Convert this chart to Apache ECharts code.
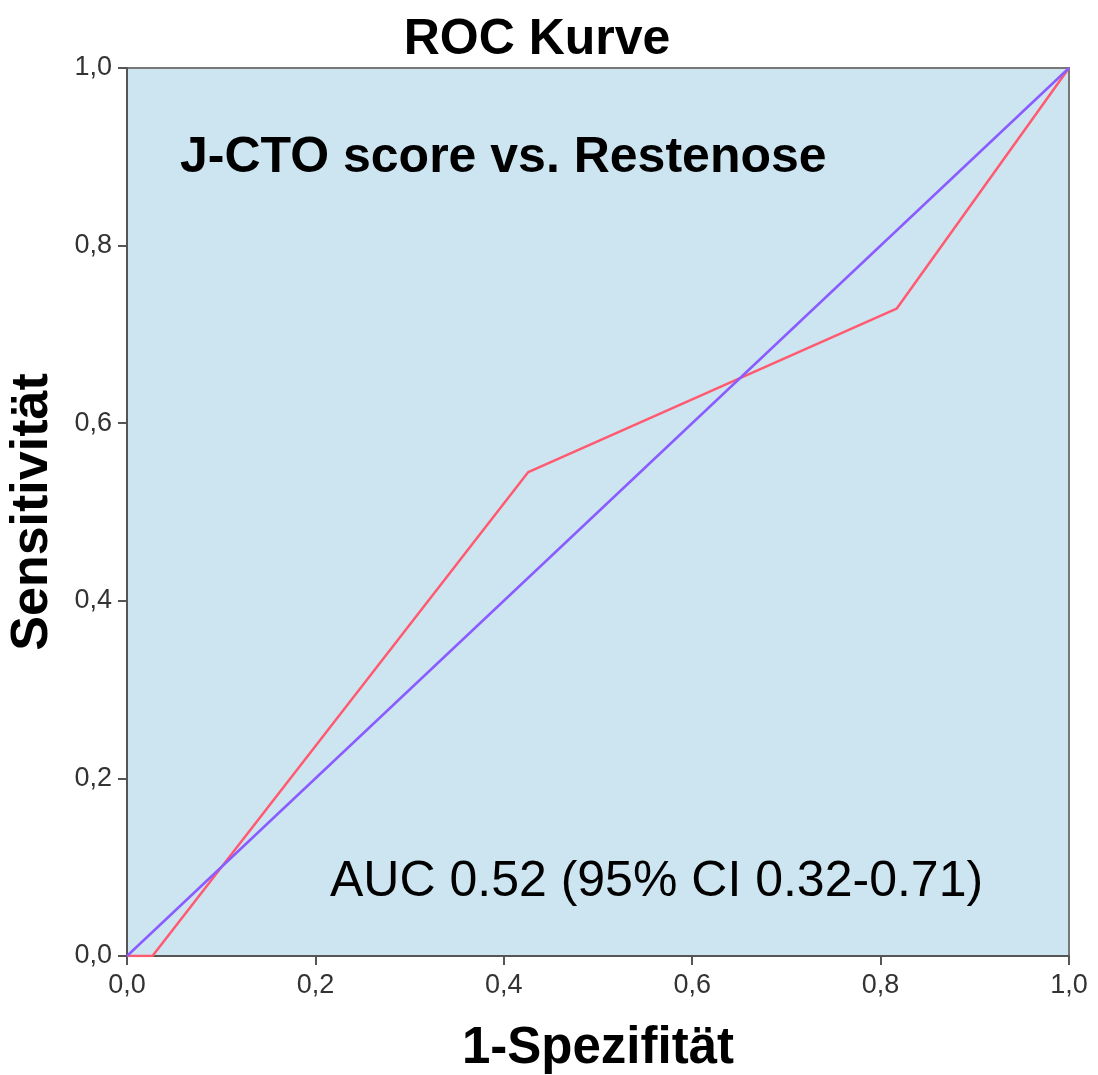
<!DOCTYPE html>
<html>
<head>
<meta charset="utf-8">
<script src="https://cdn.jsdelivr.net/npm/echarts@6/dist/echarts.min.js"></script>
<style>html,body{margin:0;padding:0;background:#fff}#c{width:1098px;height:1075px}</style>
</head>
<body>
<div id="c"></div>
<script>
var rocX = [0, 0.027, 0.426, 0.817, 1];
var rocY = [0, 0, 0.545, 0.729, 1];
var refX = [0, 1];
var refY = [0, 1];
var ticks = [0, 0.2, 0.4, 0.6, 0.8, 1.0];

function pairs(xs, ys) { return xs.map(function (x, i) { return [x, ys[i]]; }); }
function fmt(v) { return v.toFixed(1).replace('.', ','); }

var font = 'Liberation Sans, Arial, Helvetica, sans-serif';
var chart = echarts.init(document.getElementById('c'));
chart.setOption({
  animation: false,
  backgroundColor: '#ffffff',
  title: {
    text: 'ROC Kurve', left: 532, top: 10, textAlign: 'center',
    textStyle: { fontFamily: font, fontSize: 50, fontWeight: 'bold', color: '#000' }
  },
  grid: {
    left: 127, right: 29, top: 68, bottom: 119, outerBoundsMode: 'none', containLabel: false,
    show: true, backgroundColor: '#cde5f1', borderColor: '#777', borderWidth: 2
  },
  xAxis: {
    type: 'value', min: 0, max: 1, interval: 0.2,
    name: '1-Spezifität', nameLocation: 'middle', nameGap: 67,
    nameTextStyle: { fontFamily: font, fontSize: 51, fontWeight: 'bold', color: '#000' },
    axisLine: { lineStyle: { color: '#555', width: 2 } },
    axisTick: { show: true, length: 9, lineStyle: { color: '#555', width: 2 } },
    axisLabel: { formatter: fmt, fontFamily: font, fontSize: 27, color: '#333', margin: 16 },
    splitLine: { show: false }
  },
  yAxis: {
    type: 'value', min: 0, max: 1, interval: 0.2,
    name: 'Sensitivität', nameLocation: 'middle', nameGap: 68, nameRotate: 90,
    nameTextStyle: { fontFamily: font, fontSize: 52, fontWeight: 'bold', color: '#000' },
    axisLine: { lineStyle: { color: '#555', width: 2 } },
    axisTick: { show: true, length: 9, lineStyle: { color: '#555', width: 2 } },
    axisLabel: { formatter: fmt, fontFamily: font, fontSize: 27, color: '#333', margin: 15 },
    splitLine: { show: false }
  },
  graphic: [
    { type: 'text', x: 180, y: 158, style: { text: 'J-CTO score vs. Restenose', font: 'bold 50px ' + font, fill: '#000', verticalAlign: 'middle' } },
    { type: 'text', x: 330, y: 882, style: { text: 'AUC 0.52 (95% CI 0.32-0.71)', font: '50px ' + font, fill: '#000', verticalAlign: 'middle' } }
  ],
  series: [
    { type: 'line', data: pairs(refX, refY), showSymbol: false, lineStyle: { color: '#8a5cff', width: 2.5 }, z: 3 },
    { type: 'line', data: pairs(rocX, rocY), showSymbol: false, lineStyle: { color: '#ff5a70', width: 2.5 }, z: 2 }
  ]
});
</script>
</body>
</html>
